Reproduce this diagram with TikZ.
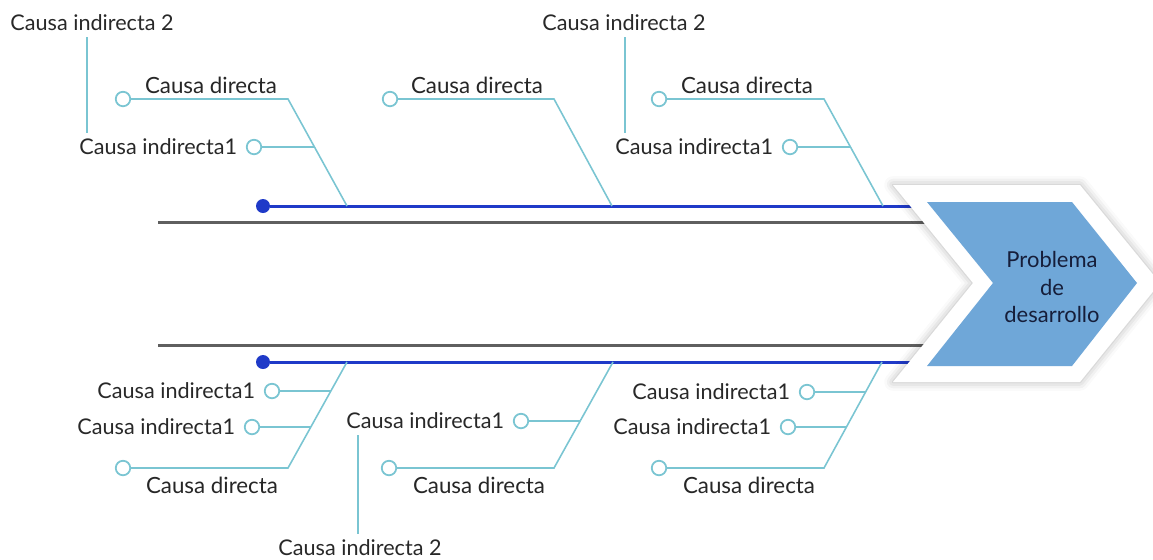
\documentclass[tikz,border=0pt]{standalone}
\usepackage{fontspec}
\setmainfont{Lato}
\usepackage{tikz}
\usetikzlibrary{positioning,shadows.blur}
\definecolor{fishblue}{RGB}{31,58,200}
\definecolor{fishgray}{RGB}{95,95,95}
\definecolor{fishteal}{RGB}{122,197,210}
\definecolor{headblue}{RGB}{111,167,216}
\definecolor{headtext}{RGB}{22,30,58}
\definecolor{txtgray}{RGB}{40,40,40}

\tikzset{
  bone/.style={line width=1.7pt},
  twig/.style={fishteal,line width=0.9pt},
  ring/.style={circle,draw=fishteal,fill=white,line width=1pt,minimum size=0.29cm,inner sep=0pt},
  knob/.style={circle,fill=fishblue,minimum size=0.28cm,inner sep=0pt},
  dlabel/.style={text=black!85,font=\fontsize{12.7}{14}\selectfont},
  ilabel/.style={text=txtgray,font=\fontsize{12.3}{13}\selectfont},
}

\begin{document}
\begin{tikzpicture}[x=0.02cm,y=-0.02cm]
    \useasboundingbox (0,0) rectangle (1153,559);
    \clip (0,0) rectangle (1153,559);

    % spine
    \coordinate (tg0) at (158,222);
    \coordinate (tg1) at (940,222);
    \coordinate (bg0) at (158,345);
    \coordinate (bg1) at (940,345);
    \draw[bone,fishgray] (tg0) -- (tg1);
    \draw[bone,fishgray] (bg0) -- (bg1);
    \node[knob] (tk) at (263,206) {};
    \node[knob] (bk) at (263,362) {};
    \coordinate (te) at (930,206);
    \coordinate (be) at (930,362);
    \draw[bone,fishblue] (tk) -- (te);
    \draw[bone,fishblue] (bk) -- (be);

    % head
    \fill[white,blur shadow={shadow xshift=0pt,shadow yshift=0pt,shadow blur radius=5pt,shadow opacity=30}]
        (893,185) -- (1080,185) -- (1160,283) -- (1080,382) -- (893,382) -- (973,283) -- cycle;
    \fill[headblue] (927,202) -- (1072,202) -- (1137,283) -- (1072,366) -- (927,366) -- (993,283) -- cycle;
    \node[align=center,text=headtext,font=\fontsize{12.5}{15.6}\selectfont] (prob) at (1052,287) {Problema\\de\\desarrollo};

    % top left
    \node[ring] (r1) at (123,99) {};
    \coordinate (j1) at (288,99);
    \coordinate (f1) at (347,206);
    \draw[twig] (r1) -- (j1) -- (f1);
    \node[dlabel] (c1) at (211,85) {Causa directa};
    \node[ring] (r1a) at (254,147) {};
    \coordinate (k1a) at (314,147);
    \draw[twig] (r1a) -- (k1a);
    \node[ilabel,left=1.5pt of r1a] (i1a) {Causa indirecta1};
    \node[ilabel] (s1) at (92,23) {Causa indirecta 2};
    \draw[twig] ([xshift=-0.1cm]s1.south) -- ([xshift=-0.1cm]s1.south |- i1a.north);

    % top middle
    \node[ring] (r2) at (390,99) {};
    \coordinate (j2) at (554,99);
    \coordinate (f2) at (612,206);
    \draw[twig] (r2) -- (j2) -- (f2);
    \node[dlabel] (c2) at (477,85) {Causa directa};

    % top right
    \node[ring] (r3) at (659,99) {};
    \coordinate (j3) at (824,99);
    \coordinate (f3) at (883,206);
    \draw[twig] (r3) -- (j3) -- (f3);
    \node[dlabel] (c3) at (747,85) {Causa directa};
    \node[ring] (r3a) at (790,147) {};
    \coordinate (k3a) at (850,147);
    \draw[twig] (r3a) -- (k3a);
    \node[ilabel,left=1.5pt of r3a] (i3a) {Causa indirecta1};
    \node[ilabel] (s3) at (624,23) {Causa indirecta 2};
    \draw[twig] ([xshift=0.02cm]s3.south) -- ([xshift=0.02cm]s3.south |- i3a.north);

    % bottom left
    \node[ring] (r4) at (123,468) {};
    \coordinate (j4) at (288,468);
    \coordinate (f4) at (347,362);
    \draw[twig] (r4) -- (j4) -- (f4);
    \node[dlabel] (c4) at (212,485) {Causa directa};
    \node[ring] (r4a) at (272,391) {};
    \coordinate (k4a) at (331,391);
    \draw[twig] (r4a) -- (k4a);
    \node[ilabel,left=1.5pt of r4a] (i4a) {Causa indirecta1};
    \node[ring] (r4b) at (252,427) {};
    \coordinate (k4b) at (311,427);
    \draw[twig] (r4b) -- (k4b);
    \node[ilabel,left=1.5pt of r4b] (i4b) {Causa indirecta1};

    % bottom middle
    \node[ring] (r5) at (389,468) {};
    \coordinate (j5) at (554,468);
    \coordinate (f5) at (613,362);
    \draw[twig] (r5) -- (j5) -- (f5);
    \node[dlabel] (c5) at (479,485) {Causa directa};
    \node[ring] (r5a) at (521,421) {};
    \coordinate (k5a) at (580,421);
    \draw[twig] (r5a) -- (k5a);
    \node[ilabel,left=1.5pt of r5a] (i5a) {Causa indirecta1};
    \node[ilabel] (s5) at (360,548) {Causa indirecta 2};
    \draw[twig] ([xshift=-0.04cm]s5.north) -- ([xshift=-0.04cm]s5.north |- i5a.south);

    % bottom right
    \node[ring] (r6) at (659,468) {};
    \coordinate (j6) at (824,468);
    \coordinate (f6) at (882,362);
    \draw[twig] (r6) -- (j6) -- (f6);
    \node[dlabel] (c6) at (749,485) {Causa directa};
    \node[ring] (r6a) at (807,392) {};
    \coordinate (k6a) at (865,392);
    \draw[twig] (r6a) -- (k6a);
    \node[ilabel,left=1.5pt of r6a] (i6a) {Causa indirecta1};
    \node[ring] (r6b) at (788,427) {};
    \coordinate (k6b) at (847,427);
    \draw[twig] (r6b) -- (k6b);
    \node[ilabel,left=1.5pt of r6b] (i6b) {Causa indirecta1};
\end{tikzpicture}
\end{document}
